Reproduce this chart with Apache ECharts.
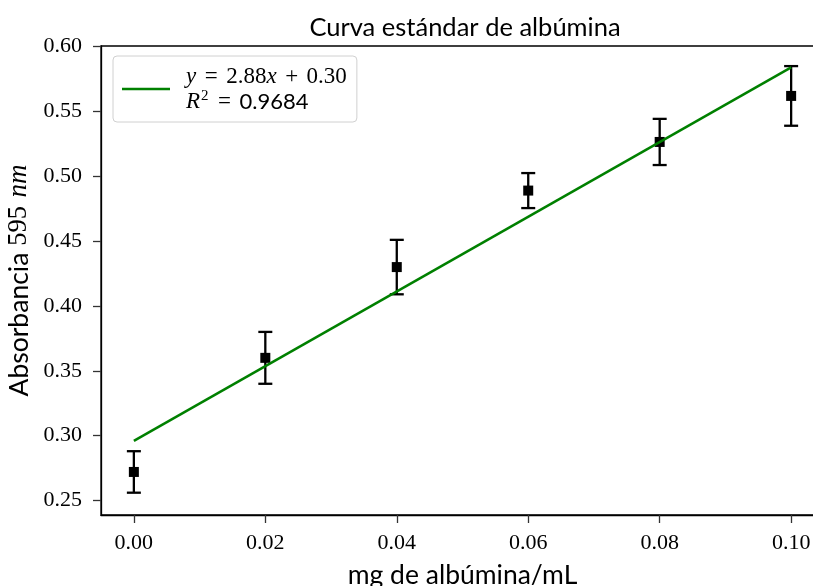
<!DOCTYPE html>
<html>
<head>
<meta charset="utf-8">
<script src="https://cdn.jsdelivr.net/npm/echarts@6/dist/echarts.min.js"></script>
<style>
  html, body { margin: 0; padding: 0; background: #fff; }
  #chart { width: 813px; height: 586px; }
</style>
</head>
<body>
<div id="chart"></div>
<script>
// Albumin standard curve: concentration (mg/mL) vs absorbance at 595 nm
const concentrations = [0.00, 0.02, 0.04, 0.06, 0.08, 0.10];
const absorbance = [0.272, 0.360, 0.430, 0.489, 0.5265, 0.562];
const absorbanceErr = [0.016, 0.020, 0.021, 0.0135, 0.0178, 0.023];

// Linear fit parameters
const fitSlope = 2.88;
const fitIntercept = 0.296;
const fitR2 = 0.9684;

const xTicks = [0.00, 0.02, 0.04, 0.06, 0.08, 0.10];
const yTicks = [0.25, 0.30, 0.35, 0.40, 0.45, 0.50, 0.55, 0.60];

const SERIF = '"Liberation Serif", "DejaVu Serif", serif';
const SANS = 'Lato, "Open Sans", "DejaVu Sans", sans-serif';

const points = concentrations.map((c, i) => [c, absorbance[i]]);
const errData = concentrations.map((c, i) => [c, absorbance[i], absorbanceErr[i]]);
const xFirst = concentrations[0];
const xLast = concentrations[concentrations.length - 1];
const fitLine = [
  [xFirst, fitSlope * xFirst + fitIntercept],
  [xLast, fitSlope * xLast + fitIntercept]
];

const fitName = 'fit';

const chart = echarts.init(document.getElementById('chart'), null, { renderer: 'canvas' });

chart.setOption({
  animation: false,
  backgroundColor: '#fff',
  title: {
    text: 'Curva estándar de albúmina',
    left: 460,
    textAlign: 'center',
    top: 10,
    textStyle: { fontFamily: SANS, fontSize: 25.5, fontWeight: 'normal', color: '#000' }
  },
  grid: {
    left: 101,
    top: 46,
    width: 723,
    height: 469,
    outerBoundsMode: 'none',
    containLabel: false,
    show: true,
    borderColor: '#000',
    borderWidth: 1.3,
    backgroundColor: 'transparent'
  },
  legend: {
    left: 113,
    top: 56,
    orient: 'vertical',
    data: [{ name: fitName, icon: 'rect' }],
    itemWidth: 48,
    itemHeight: 2.5,
    padding: [9, 10, 8, 9],
    backgroundColor: '#fff',
    borderColor: '#d0d0d0',
    borderWidth: 1,
    borderRadius: 4,
    selectedMode: false,
    formatter: function () {
      return '{g|}{m|y}{sp|}{r|=}{sp|}{r|' + fitSlope.toFixed(2) + '}{m|x}{sp|}{r|+}{sp|}{r|' + fitIntercept.toFixed(2) + '}\n' +
             '{g|}{m|R}{sup|2}{sp|}{r|=}{sp|}{s|' + fitR2.toFixed(4) + '}';
    },
    textStyle: {
      rich: {
        g: { width: 11 },
        sp: { width: 8.5 },
        m: { fontFamily: SERIF, fontStyle: 'italic', fontSize: 23, color: '#000', lineHeight: 25 },
        r: { fontFamily: SERIF, fontSize: 23, color: '#000', lineHeight: 25 },
        s: { fontFamily: SANS, fontSize: 22, color: '#000', lineHeight: 25 },
        sup: { fontFamily: SERIF, fontSize: 15, color: '#000', padding: [0, 1, 10, 1], lineHeight: 25 }
      }
    }
  },
  xAxis: {
    type: 'value',
    min: -0.005,
    max: 0.105,
    name: 'mg de albúmina/mL',
    nameLocation: 'middle',
    nameGap: 47,
    nameTextStyle: { fontFamily: SANS, fontSize: 26.5, color: '#000' },
    axisLine: { show: true, onZero: false, lineStyle: { color: '#000', width: 1.3 } },
    axisTick: { show: true, length: 8, customValues: xTicks, lineStyle: { color: '#333', width: 1.3 } },
    axisLabel: {
      customValues: xTicks,
      margin: 17,
      fontFamily: SERIF,
      fontSize: 22,
      color: '#000',
      formatter: v => v.toFixed(2)
    },
    splitLine: { show: false }
  },
  yAxis: {
    type: 'value',
    min: 0.2388,
    max: 0.6005,
    name: '{a|Absorbancia }{b|595 }{c|nm}',
    nameLocation: 'middle',
    nameRotate: 90,
    nameGap: 62,
    nameTextStyle: {
      rich: {
        a: { fontFamily: SANS, fontSize: 26.5, color: '#000' },
        b: { fontFamily: SERIF, fontSize: 26.5, color: '#000' },
        c: { fontFamily: SERIF, fontStyle: 'italic', fontSize: 27, color: '#000', padding: [0, 0, 0, 2] }
      }
    },
    axisLine: { show: true, onZero: false, lineStyle: { color: '#000', width: 1.3 } },
    axisTick: { show: true, length: 8, customValues: yTicks, lineStyle: { color: '#333', width: 1.3 } },
    axisLabel: {
      customValues: yTicks,
      margin: 19,
      fontFamily: SERIF,
      fontSize: 22,
      color: '#000',
      formatter: v => v.toFixed(2)
    },
    splitLine: { show: false }
  },
  series: [
    {
      name: 'error',
      type: 'custom',
      data: errData,
      z: 2,
      renderItem: function (params, api) {
        const x = api.value(0), y = api.value(1), e = api.value(2);
        const top = api.coord([x, y + e]);
        const bot = api.coord([x, y - e]);
        const cap = 7;
        const style = { stroke: '#000', lineWidth: 2.3, fill: null };
        return {
          type: 'group',
          children: [
            { type: 'line', shape: { x1: top[0], y1: top[1], x2: bot[0], y2: bot[1] }, style: style },
            { type: 'line', shape: { x1: top[0] - cap, y1: top[1], x2: top[0] + cap, y2: top[1] }, style: style },
            { type: 'line', shape: { x1: bot[0] - cap, y1: bot[1], x2: bot[0] + cap, y2: bot[1] }, style: style }
          ]
        };
      }
    },
    {
      name: 'data',
      type: 'scatter',
      data: points,
      symbol: 'rect',
      symbolSize: 10,
      itemStyle: { color: '#000', opacity: 1 },
      z: 3
    },
    {
      name: fitName,
      type: 'line',
      data: fitLine,
      showSymbol: false,
      symbol: 'none',
      lineStyle: { color: '#008000', width: 2.5 },
      itemStyle: { color: '#008000' },
      z: 4
    }
  ]
});
</script>
</body>
</html>
